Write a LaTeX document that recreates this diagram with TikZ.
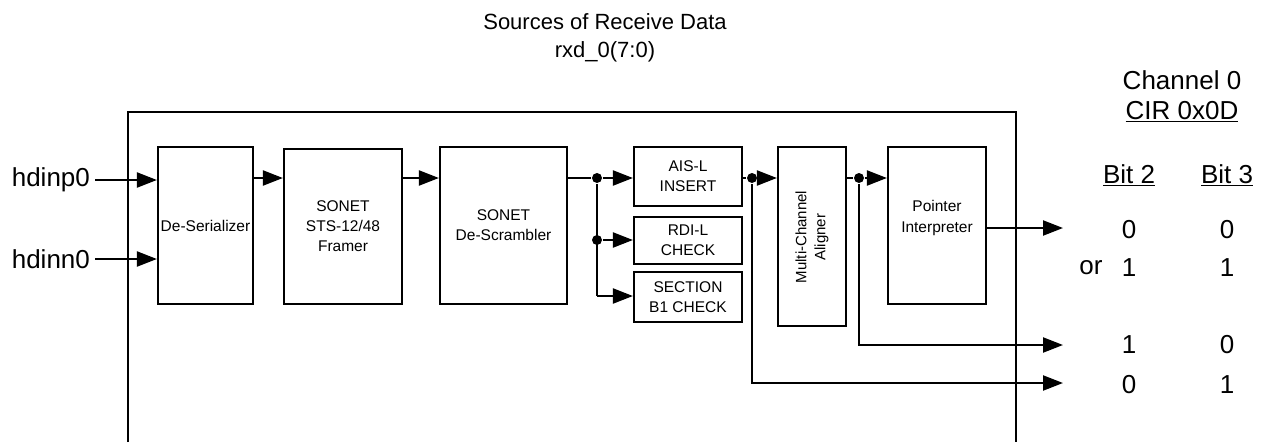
\documentclass[tikz,border=0pt]{standalone}
\usepackage{fontspec}
\setmainfont{Liberation Sans}
\usetikzlibrary{arrows.meta}
\begin{document}
\begin{tikzpicture}[x=1pt,y=-1pt,
  line width=2.2pt,
  blk/.style={draw, line width=2.2pt, inner sep=0pt, align=center, font=\fontsize{15.5}{20}\selectfont},
  big/.style={inner sep=0pt, font=\fontsize{26}{30}\selectfont},
  ttl/.style={inner sep=0pt, font=\fontsize{22}{26}\selectfont},
  arr/.style={-{Triangle[length=20pt,width=15pt]}, line width=2.2pt},
  dot/.style={circle, fill, inner sep=0pt, minimum size=10pt}]
\useasboundingbox (0,0) rectangle (1263,442);
% outer frame
\draw (128,442) -- (128,112) -- (1016,112) -- (1016,442);
% title
\node[ttl] (t1) at (605,22) {Sources of Receive Data};
\node[ttl] (t2) at (605,52) {rxd\_0(7:0)};
% blocks
\node[blk, minimum width=95pt, minimum height=157pt] (des) at (205.5,225.5) {De-Serializer};
\node[blk, minimum width=118pt, minimum height=155pt] (frm) at (343,226.5) {SONET\\STS-12/48\\Framer};
\node[blk, minimum width=127pt, minimum height=157pt] (dsc) at (503.5,225.5) {SONET\\De-Scrambler};
\node[blk, minimum width=108pt, minimum height=59pt] (ais) at (688,176.5) {AIS-L\\INSERT};
\node[blk, minimum width=108pt, minimum height=47pt] (rdi) at (688,240.5) {RDI-L\\CHECK};
\node[blk, minimum width=108pt, minimum height=50pt] (sec) at (688,297) {SECTION\\B1 CHECK};
\node[blk, minimum width=68pt, minimum height=179pt] (mca) at (812,236.5) {};
\node[rotate=90, inner sep=0pt, align=center, font=\fontsize{15}{19}\selectfont] (mcat) at (812,237) {Multi-Channel\\Aligner};
\node[blk, minimum width=98pt, minimum height=157pt] (ptr) at (937,225.5) {};
\node[inner sep=0pt, align=center, font=\fontsize{15.5}{21}\selectfont] (ptrt) at (937,218) {Pointer\\Interpreter};
% inputs
\node[big, anchor=east] (hp) at (91,180) {hdinp0};
\node[big, anchor=east] (hn) at (91,259) {hdinn0};
\draw[arr] ([xshift=4pt]hp.east) -- (des.west |- hp.east);
\draw[arr] ([xshift=4pt]hn.east) -- (des.west |- hn.east);
% chain
\coordinate (r1) at (253,178);
\draw[arr] (des.east |- r1) -- (frm.west |- r1);
\draw[arr] (frm.east |- r1) -- (dsc.west |- r1);
\node[dot] (j1) at (597,178) {};
\node[dot] (j2) at (597,240) {};
\coordinate (c3) at (597,296);
\draw (dsc.east |- j1) -- (j1);
\draw[arr] (j1) -- (ais.west |- j1);
\draw (j1) -- (c3);
\draw[arr] (j2) -- (rdi.west |- j2);
\draw[arr] (c3) -- (sec.west |- c3);
\node[dot] (j3) at (752,178) {};
\draw (ais.east |- j3) -- (j3);
\draw[arr] (j3) -- (mca.west |- j3);
\node[dot] (j4) at (859,178) {};
\draw (mca.east |- j4) -- (j4);
\draw[arr] (j4) -- (ptr.west |- j4);
% outputs
\coordinate (o1) at (1063,228);
\coordinate (o2) at (1063,345);
\coordinate (o3) at (1063,383);
\draw[arr] (ptr.east |- o1) -- (o1);
\draw[arr] (j4) |- (o2);
\draw[arr] (j3) |- (o3);
% right table
\node[big] (ch) at (1182,80) {Channel 0};
\node[big] (cir) at (1182,112) {\underline{CIR 0x0D}};
\node[big] (b2) at (1129,175) {\underline{Bit 2}};
\node[big] (b3) at (1227,175) {\underline{Bit 3}};
\node[big] (a1) at (1129,230) {0};
\node[big] (a2) at (1227,230) {0};
\node[big] (or) at (1091,268) {or};
\node[big] (b1) at (1129,268) {1};
\node[big] (bb) at (1227,268) {1};
\node[big] (c1) at (1129,345) {1};
\node[big] (c2) at (1227,345) {0};
\node[big] (d1) at (1129,385) {0};
\node[big] (d2) at (1227,385) {1};
\end{tikzpicture}
\end{document}
